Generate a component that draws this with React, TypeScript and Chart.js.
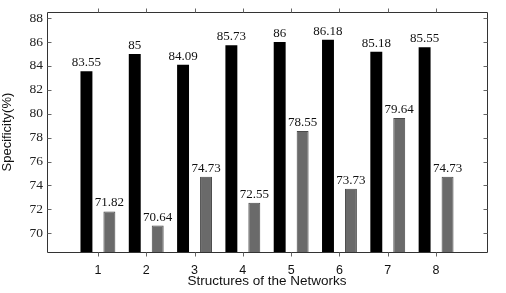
import React, { useEffect, useRef } from 'react';
import { Chart, registerables } from 'chart.js';

Chart.register(...registerables);

const categories = [1, 2, 3, 4, 5, 6, 7, 8];
const blackValues = [83.55, 85, 84.09, 85.73, 86, 86.18, 85.18, 85.55];
const grayValues = [71.82, 70.64, 74.73, 72.55, 78.55, 73.73, 79.64, 74.73];
const yTickValues = [70, 72, 74, 76, 78, 80, 82, 84, 86, 88];
const xTitle = 'Structures of the Networks';
const yTitle = 'Specificity(%)';

const serif = '"Liberation Serif", "Times New Roman", serif';
const sans = '"Liberation Sans", Arial, sans-serif';

const framePlugin = {
  id: 'frameAndLabels',
  afterDatasetsDraw(chart: any) {
    const { ctx, chartArea, scales } = chart;
    const { left, right, top, bottom } = chartArea;
    const x = scales.x;
    const y = scales.y;
    ctx.save();
    ctx.lineWidth = 1;
    ctx.strokeStyle = '#333';
    const l = Math.round(left) + 0.5;
    const r = Math.round(right) + 0.5;
    const t = Math.round(top) + 0.5;
    const b = Math.round(bottom) + 0.5;
    ctx.beginPath();
    ctx.moveTo(l, t);
    ctx.lineTo(r, t);
    ctx.lineTo(r, b);
    ctx.lineTo(l, b);
    ctx.closePath();
    ctx.stroke();
    ctx.strokeStyle = '#666';
    ctx.beginPath();
    categories.forEach((c) => {
      const px = Math.round(x.getPixelForValue(c)) + 0.5;
      ctx.moveTo(px, b);
      ctx.lineTo(px, b + 4);
      ctx.moveTo(px, t);
      ctx.lineTo(px, t - 4);
    });
    yTickValues.forEach((v) => {
      const py = Math.round(y.getPixelForValue(v)) + 0.5;
      ctx.moveTo(l, py);
      ctx.lineTo(l + 4, py);
      ctx.moveTo(r, py);
      ctx.lineTo(r - 4, py);
    });
    ctx.stroke();
    ctx.fillStyle = '#111';
    ctx.font = '13px ' + serif;
    ctx.textAlign = 'center';
    ctx.textBaseline = 'alphabetic';
    chart.data.datasets.forEach((ds: any, di: number) => {
      const meta = chart.getDatasetMeta(di);
      meta.data.forEach((bar: any, i: number) => {
        ctx.fillText(String(ds.data[i].y), bar.x, bar.y - 5);
      });
    });
    ctx.restore();
  },
};

export default function App() {
  const ref = useRef<HTMLCanvasElement | null>(null);
  useEffect(() => {
    if (!ref.current) return;
    const chart = new Chart(ref.current, {
      type: 'bar',
      data: {
        datasets: [
          {
            data: categories.map((c, i) => ({ x: c, y: blackValues[i] })),
            backgroundColor: '#000',
            borderWidth: 0,
            categoryPercentage: 0.95,
            barPercentage: 0.52,
          },
          {
            data: categories.map((c, i) => ({ x: c, y: grayValues[i] })),
            backgroundColor: '#6a6a6a',
            borderColor: '#4a4a4a',
            borderWidth: 1,
            categoryPercentage: 0.95,
            barPercentage: 0.52,
          },
        ],
      },
      options: {
        animation: false,
        responsive: false,
        maintainAspectRatio: false,
        devicePixelRatio: 1,
        layout: { padding: { top: 9, right: 19, left: 0, bottom: 0 } },
        plugins: { legend: { display: false }, tooltip: { enabled: false } },
        scales: {
          x: {
            type: 'linear',
            min: -0.054,
            max: 9.054,
            offset: false,
            grid: { display: false, drawTicks: false, offset: false },
            border: { display: false },
            afterBuildTicks: (s: any) => {
              s.ticks = categories.map((v) => ({ value: v }));
            },
            afterFit: (s: any) => {
              s.height = 41;
            },
            ticks: {
              padding: 11,
              color: '#111',
              font: { family: sans, size: 12.5 },
              callback: (v: any) => String(v),
            },
            title: {
              display: true,
              text: xTitle,
              color: '#111',
              font: { family: sans, size: 13.5 },
              padding: { top: 0, bottom: 4 },
            },
          },
          y: {
            type: 'linear',
            min: 68.43,
            max: 88.5,
            grid: { display: false, drawTicks: false },
            border: { display: false },
            afterBuildTicks: (s: any) => {
              s.ticks = yTickValues.map((v) => ({ value: v }));
            },
            afterFit: (s: any) => {
              s.width = 47;
            },
            ticks: {
              padding: 4,
              color: '#222',
              font: { family: serif, size: 13.5 },
              callback: (v: any) => String(v),
            },
            title: {
              display: true,
              text: yTitle,
              color: '#111',
              font: { family: sans, size: 13 },
              padding: { top: 0, bottom: 0 },
            },
          },
        },
      },
      plugins: [framePlugin],
    } as any);
    return () => chart.destroy();
  }, []);
  return (
    <div style={{ position: 'absolute', left: 0, top: 0, width: 506, height: 293, background: '#fff' }}>
      <canvas ref={ref} width={506} height={293} style={{ display: 'block', width: 506, height: 293 }} />
    </div>
  );
}
